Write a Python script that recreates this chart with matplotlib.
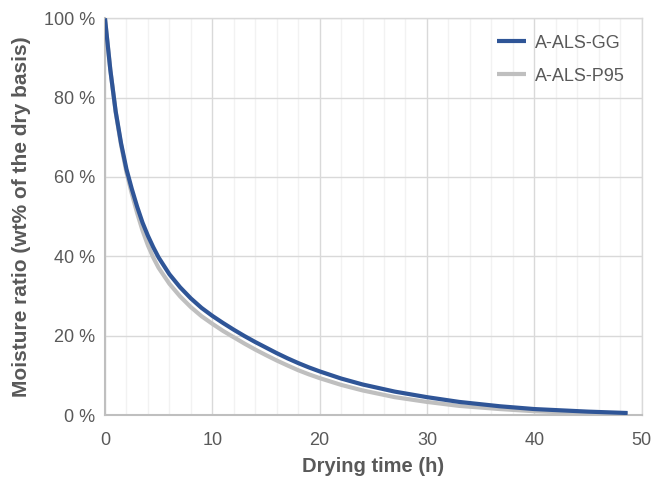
import matplotlib.pyplot as plt
from matplotlib.ticker import MultipleLocator, FuncFormatter

plt.rcParams['font.family'] = ['Liberation Sans', 'DejaVu Sans']

# data (drying time in h, moisture ratio in %)
time_h = [0, 0.5, 1, 1.5, 2, 2.5, 3, 3.5, 4, 4.5, 5, 6, 7, 8, 9, 10, 11, 12, 13, 14,
          15, 16, 17, 18, 19, 20, 22, 24, 27, 30, 33, 36.8, 40, 45, 48.7]

gg_moist = [100, 87, 76.5, 68.5, 62, 57, 52.5, 48.5, 45.2, 42.3, 39.7, 35.5, 32.2, 29.4,
            27.0, 25.0, 23.2, 21.5, 19.9, 18.4, 17.0, 15.6, 14.3, 13.1, 12.0, 11.0, 9.2,
            7.7, 5.9, 4.5, 3.3, 2.2, 1.5, 0.85, 0.5]

p95_moist = [100, 87, 76.3, 68.1, 61.2, 55.8, 50.9, 46.5, 42.8, 39.7, 37.1, 33.1, 29.9,
             27.2, 24.9, 23.0, 21.2, 19.6, 18.0, 16.5, 15.1, 13.75, 12.5, 11.3, 10.25, 9.3,
             7.6, 6.2, 4.5, 3.3, 2.3, 1.5, 0.95, 0.45, 0.2]

labels = ["A-ALS-GG", "A-ALS-P95"]

txt = "#595959"

fig = plt.figure(figsize=(6.56, 4.82), dpi=100)
ax = fig.add_axes([0.160, 0.139, 0.818, 0.823])

ax.plot(time_h, p95_moist, color="#BFBFBF", lw=3.0, label=labels[1],
        solid_capstyle="butt", zorder=3)
ax.plot(time_h, gg_moist, color="#2F5597", lw=3.0, label=labels[0],
        solid_capstyle="butt", zorder=4)

ax.set_xlim(0, 50)
ax.set_ylim(0, 100)
ax.xaxis.set_major_locator(MultipleLocator(10))
ax.xaxis.set_minor_locator(MultipleLocator(2))
ax.yaxis.set_major_locator(MultipleLocator(20))
ax.yaxis.set_major_formatter(FuncFormatter(lambda v, p: f"{v:.0f} %"))

ax.grid(True, which="major", color="#D9D9D9", lw=1.0, zorder=1)
ax.grid(True, which="minor", axis="x", color="#F2F2F2", lw=1.0, zorder=0)
ax.set_axisbelow(True)

for side in ["top", "right"]:
    ax.spines[side].set_color("#D9D9D9")
    ax.spines[side].set_linewidth(1.0)
for side in ["left", "bottom"]:
    ax.spines[side].set_color("#BFBFBF")
    ax.spines[side].set_linewidth(1.5)

ax.tick_params(which="both", length=0, labelsize=13, colors=txt)
ax.tick_params(axis="x", pad=12)
ax.tick_params(axis="y", pad=7)

ax.set_xlabel("Drying time (h)", fontsize=14.5, fontweight="bold", color=txt, labelpad=6)
ax.set_ylabel("Moisture ratio (wt% of the dry basis)", fontsize=15, fontweight="bold",
              color=txt, labelpad=9)

handles, labs = ax.get_legend_handles_labels()
leg = ax.legend(handles[::-1], labs[::-1], loc="upper right", frameon=False, fontsize=13,
                handlelength=1.6, handletextpad=0.55, labelspacing=0.9,
                bbox_to_anchor=(1.0, 1.0))
for t in leg.get_texts():
    t.set_color(txt)

fig.savefig("out.png", dpi=100)
